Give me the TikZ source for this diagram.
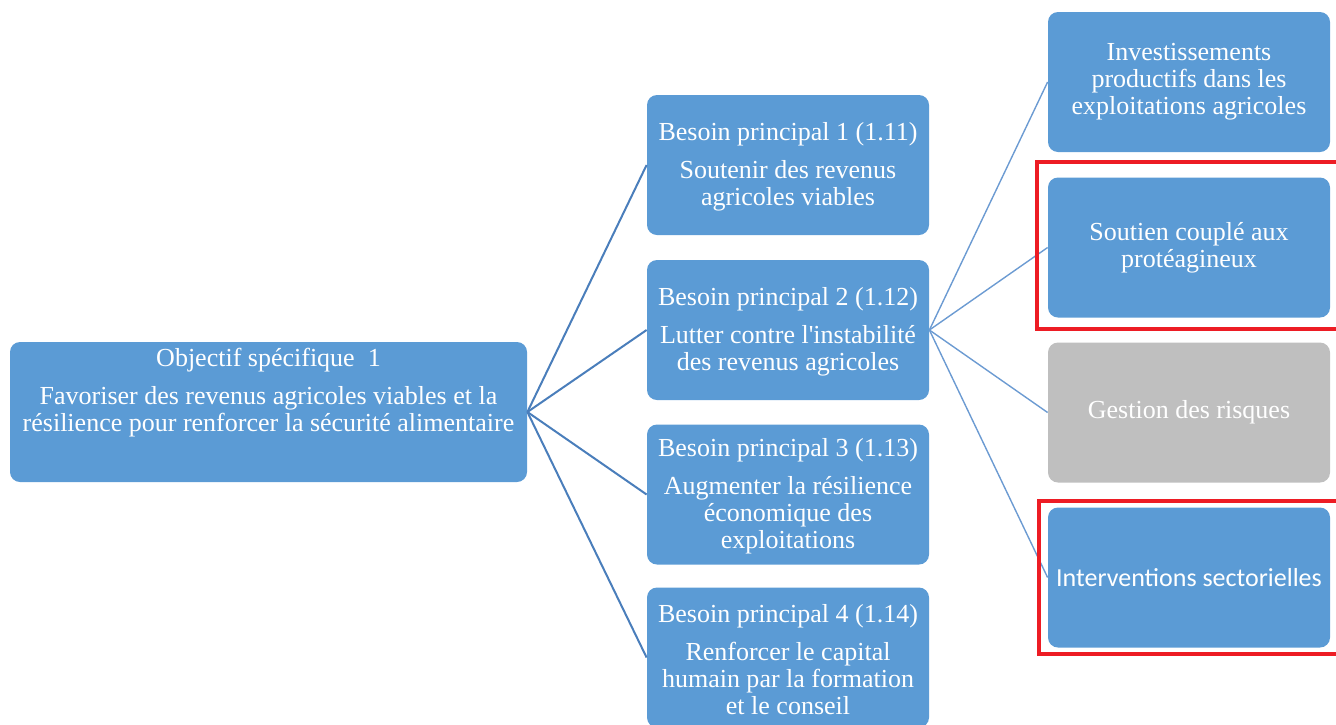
\documentclass[tikz,border=0pt]{standalone}
\usepackage{fontspec}
\setmainfont{Liberation Serif}
\newfontfamily\calib{Carlito}
\definecolor{boxblue}{HTML}{5B9BD5}
\definecolor{boxgrey}{HTML}{BFBFBF}
\definecolor{linkdark}{HTML}{4A7EBB}
\definecolor{linklight}{HTML}{6C9BD2}
\definecolor{hired}{HTML}{ED1C24}
\begin{document}
\begin{tikzpicture}[x=0.5pt,y=-0.5pt,
  box/.style={draw=none,fill=boxblue,rounded corners=5pt,minimum width=141pt,minimum height=70pt,inner sep=0pt},
  greybox/.style={box,fill=boxgrey},
  txt/.style={text=white,align=center,font=\fontsize{13}{13.5}\selectfont,inner sep=0pt},
  leftlink/.style={draw=linkdark,line width=1pt},
  rightlink/.style={draw=linklight,line width=0.7pt},
  redframe/.style={draw=hired,line width=2pt}]
\useasboundingbox (0,0) rectangle (1336,724);
% root
\node[box,minimum width=258.5pt] (root) at (268.5,412) {};
\node[txt] (roott) at (268.5,393) {Objectif spécifique\ \ 1\\[5.5pt]Favoriser des revenus agricoles viables et la\\résilience pour renforcer la sécurité alimentaire};
% needs
\node[box] (b1) at (788,165) {};
\node[txt] (b1t) at ([yshift=-1pt]b1.center) {Besoin principal 1 (1.11)\\[5.5pt]Soutenir des revenus\\agricoles viables};
\node[box] (b2) at (788,330) {};
\node[txt] (b2t) at ([yshift=-1pt]b2.center) {Besoin principal 2 (1.12)\\[5.5pt]Lutter contre l\textquotesingle instabilité\\des revenus agricoles};
\node[box] (b3) at (788,494.5) {};
\node[txt] (b3t) at ([yshift=-1pt]b3.center) {Besoin principal 3 (1.13)\\[5.5pt]Augmenter la résilience\\économique des\\exploitations};
\node[box] (b4) at (788,657.5) {};
\node[txt] (b4t) at ([yshift=-1pt]b4.center) {Besoin principal 4 (1.14)\\[5.5pt]Renforcer le capital\\humain par la formation\\et le conseil};
% interventions
\node[box] (r1) at (1189,82) {};
\node[txt] (r1t) at (r1.center) {Investissements\\productifs dans les\\exploitations agricoles};
\node[box] (r2) at (1189,247.5) {};
\node[txt] (r2t) at (r2.center) {Soutien couplé aux\\protéagineux};
\node[greybox] (r3) at (1189,412.5) {};
\node[txt] (r3t) at (r3.center) {Gestion des risques};
\node[box] (r4) at (1189,577.5) {};
\node[txt,font=\calib\fontsize{13}{13.5}\selectfont] (r4t) at (r4.center) {Interventions sectorielles};
% connectors
\foreach \n in {b1,b2,b3,b4} \draw[leftlink] (root.east) -- (\n.west);
\foreach \n in {r1,r2,r3,r4} \draw[rightlink] (b2.east) -- (\n.west);
% red frames
\coordinate (f1a) at (1037,162);
\coordinate (f1b) at (1340,329);
\coordinate (f2a) at (1039,501);
\coordinate (f2b) at (1340,654);
\draw[redframe] (f1a) rectangle (f1b);
\draw[redframe] (f2a) rectangle (f2b);
\end{tikzpicture}
\end{document}
